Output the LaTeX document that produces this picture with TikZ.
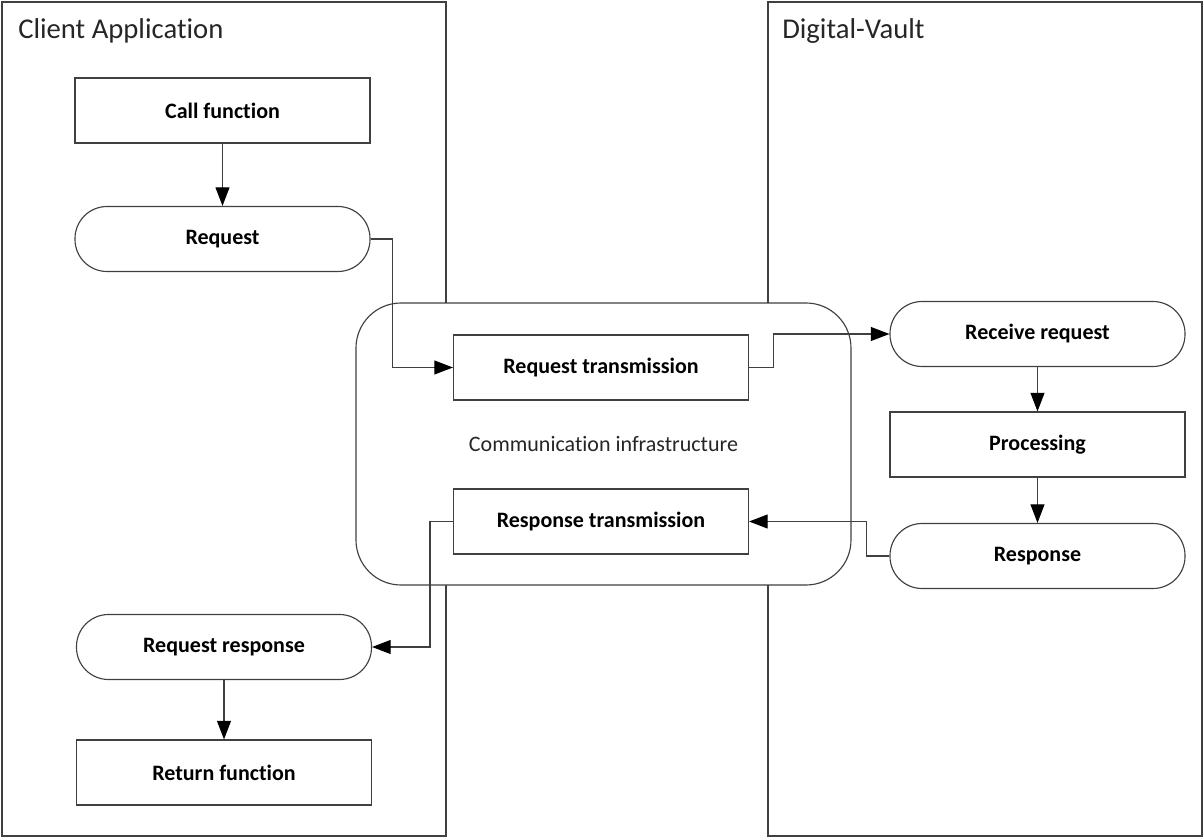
\documentclass[tikz,border=0pt]{standalone}
\usepackage{fontspec}
\setmainfont{Carlito}[Ligatures=CommonOff]
\usetikzlibrary{arrows.meta}

\tikzset{
  line/.style={draw=black!75, line width=0.85pt},
  box/.style={line, fill=white, minimum width=221.25pt, minimum height=48.75pt,
    inner sep=0pt, font=\fontsize{16.5pt}{19pt}\selectfont\bfseries},
  pill/.style={box, rounded corners=24pt},
  lane/.style={line, minimum width=333pt, minimum height=625.5pt, inner sep=0pt},
  flow/.style={line, -{Triangle[length=14pt, width=10.5pt, color=black]}},
  title/.style={font=\fontsize{21.5pt}{25pt}\selectfont, text=black!85, inner sep=0pt, anchor=base west}
}

\begin{document}
\begin{tikzpicture}[x=0.75pt, y=-0.75pt]
  \useasboundingbox (0,0) rectangle (1204,838);

  % swimlanes
  \node[lane] (client) at (224,419) {};
  \node[lane, minimum width=325.5pt] (vault) at (985,419) {};
  \node[title] (clientlbl) at (18,39) {Client Application};
  \node[title] (vaultlbl) at (782,39) {Digital-Vault};

  % communication layer
  \node[line, fill=white, rounded corners=33.75pt, minimum width=371.25pt,
        minimum height=211.5pt, inner sep=0pt,
        font=\fontsize{16.5pt}{19pt}\selectfont, text=black!85] (infra) at (603.5,444) {Communication infrastructure};

  % client side
  \node[box]  (call)    at (222.5,110.5) {Call function};
  \node[pill] (req)     at (222.5,239)   {Request};
  \node[pill] (reqresp) at (224,647)     {Request response};
  \node[box]  (ret)     at (224,772.5)   {Return function};

  % transmission
  \node[box] (reqtx)  at (601,367.5) {Request transmission};
  \node[box] (resptx) at (601,521.5) {Response transmission};

  % vault side
  \node[pill] (recv) at (1037.5,334)   {Receive request};
  \node[box]  (proc) at (1037.5,444.5) {Processing};
  \node[pill] (resp) at (1037.5,556)   {Response};

  % connectors
  \draw[flow] (call) -- (req);
  \draw[flow] (req.east) -- ++(22,0) |- (reqtx.west);
  \draw[flow] (reqtx.east) -- ++(24,0) |- (recv.west);
  \draw[flow] (recv) -- (proc);
  \draw[flow] (proc) -- (resp);
  \draw[flow] (resp.west) -- ++(-23,0) |- (resptx.east);
  \draw[flow] (resptx.west) -- ++(-23,0) |- (reqresp.east);
  \draw[flow] (reqresp) -- (ret);
\end{tikzpicture}
\end{document}
